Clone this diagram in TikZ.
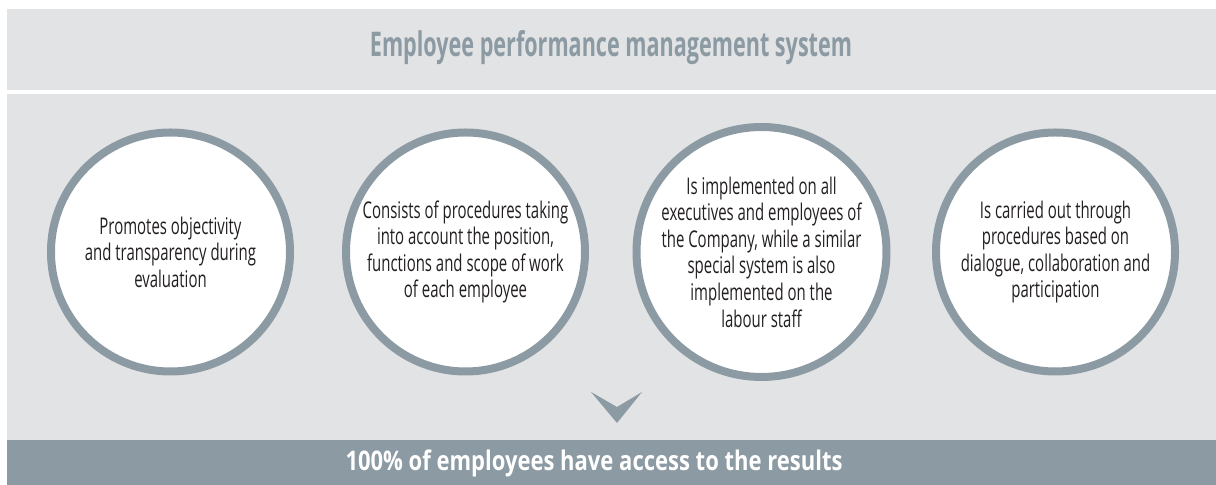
\documentclass[tikz,border=0pt]{standalone}
\usepackage{fontspec}
\usepackage{tikz}
\usetikzlibrary{positioning}
\newfontfamily\circleFont[FakeStretch=0.65]{Open Sans}
\newfontfamily\headFont[FakeStretch=0.635]{Open Sans}
\newfontfamily\resultFont[FakeStretch=0.815]{Open Sans}
\definecolor{panelColor}{HTML}{E2E3E5}
\definecolor{ringColor}{HTML}{8C9AA3}
\definecolor{textColor}{HTML}{231F20}
\tikzstyle{diagram} = [x = 0.5pt, y = -0.5pt]
\tikzstyle{panelStyle} = [fill=panelColor, draw=none]
\tikzstyle{bandStyle} = [fill=ringColor, draw=none]
\tikzstyle{ringStyle} = [circle, draw=ringColor, fill=white, line width=4pt, minimum size=119.5pt, inner sep=0pt, align=center, text=textColor, font=\circleFont\fontsize{11.5}{13.3}\selectfont]
\tikzstyle{titleText} = [text=ringColor, font=\headFont\bfseries\fontsize{17}{20}\selectfont]
\tikzstyle{resultText} = [text=white, font=\resultFont\bfseries\fontsize{13.5}{16}\selectfont]
\newcommand{\infoCircle}[3]{\node [ringStyle] (#1) at (#2, 252) {#3};}

\begin{document}
\begin{tikzpicture}[diagram]
  \useasboundingbox (0,0) rectangle (1216,485);
  \fill [panelStyle] (7,9) rectangle (1216,90);
  \fill [panelStyle] (7,94) rectangle (1216,440);
  \fill [bandStyle] (7,440) rectangle (1216,485);

  \node [titleText] (title) at (611,48) {Employee performance management system};

  \infoCircle{objectivity}{170.5}{Promotes objectivity\\and transparency during\\evaluation}
  \infoCircle{procedures}{465.5}{Consists of procedures taking\\into account the position,\\functions and scope of work\\of each employee}
  \infoCircle{coverage}{761.5}{Is implemented on all\\executives and employees of\\the Company, while a similar\\special system is also\\implemented on the\\labour staff}
  \infoCircle{dialogue}{1055.5}{Is carried out through\\procedures based on\\dialogue, collaboration and\\participation}

  % chevron pointing down to the result band
  \fill [ringColor] (591,392) -- (617,407) -- (642,392) -- (617,423) -- cycle;

  \node [resultText] (result) at (594,463) {100\% of employees have access to the results};
\end{tikzpicture}
\end{document}
